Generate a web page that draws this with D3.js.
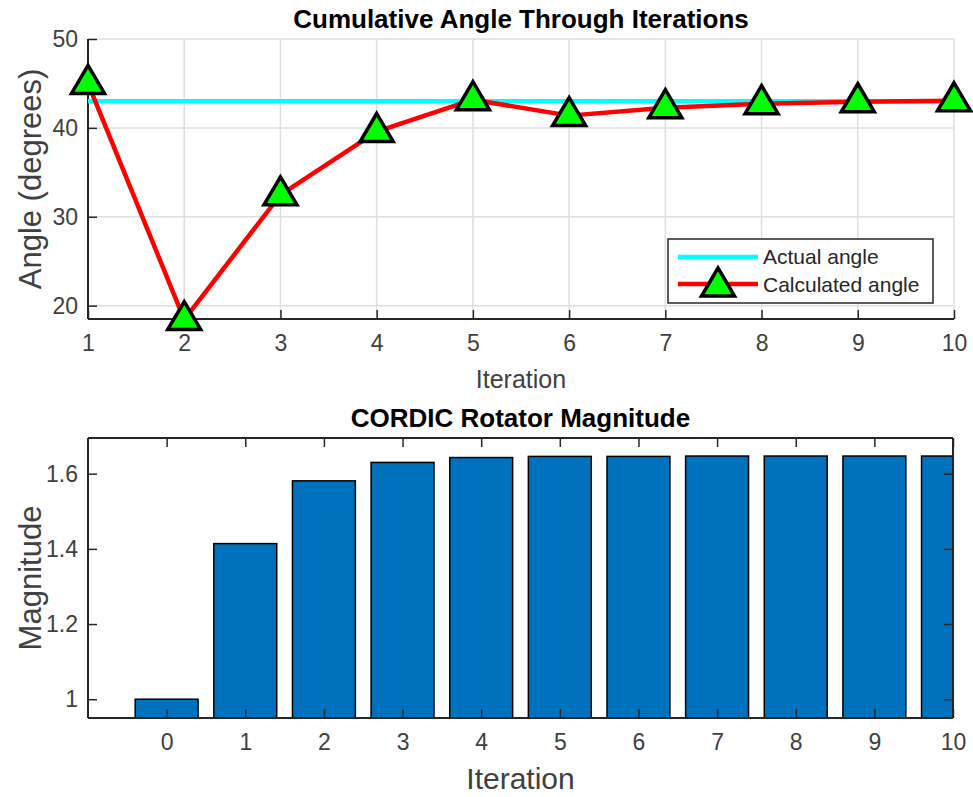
<!DOCTYPE html>
<html>
<head>
<meta charset="utf-8">
<script src="https://cdn.jsdelivr.net/npm/d3@7"></script>
<style>
  body { margin: 0; background: #fff; }
  svg { display: block; font-family: "Liberation Sans", Arial, sans-serif; }
</style>
</head>
<body>
<svg id="chart" width="973" height="797"></svg>
<script>
// data
const iterations = [1, 2, 3, 4, 5, 6, 7, 8, 9, 10];
const calculatedAngle = [45, 18.43, 32.47, 39.59, 43.17, 41.38, 42.27, 42.72, 42.94, 43.05];
const actualAngle = 43;
const magIterations = [0, 1, 2, 3, 4, 5, 6, 7, 8, 9, 10];
const magnitude = [1, 1.414, 1.581, 1.630, 1.643, 1.646, 1.646, 1.647, 1.647, 1.647, 1.647];
const angleTicks = [20, 30, 40, 50];
const magTicks = [1, 1.2, 1.4, 1.6];

const axisColor = "#262626";
const textColor = "#404040";
const gridColor = "#dedede";

const svg = d3.select("#chart");

// ---------- top panel: cumulative angle ----------
const topBox = { x0: 88, x1: 954, y0: 39, y1: 319 };

const x1 = d3.scaleLinear().domain([1, 10]).range([topBox.x0, topBox.x1]);
const y1 = d3.scaleLinear().domain([18.5, 50]).range([topBox.y1, topBox.y0]);

const g1 = svg.append("g");

// grid
g1.selectAll("line.vgrid").data(iterations).enter().append("line")
  .attr("x1", d => x1(d)).attr("x2", d => x1(d))
  .attr("y1", topBox.y0).attr("y2", topBox.y1)
  .attr("stroke", gridColor).attr("stroke-width", 1.5);
g1.selectAll("line.hgrid").data(angleTicks).enter().append("line")
  .attr("x1", topBox.x0).attr("x2", topBox.x1)
  .attr("y1", d => y1(d)).attr("y2", d => y1(d))
  .attr("stroke", gridColor).attr("stroke-width", 1.5);

// axes
const xAxis1 = d3.axisBottom(x1).tickValues(iterations).tickSize(-9).tickPadding(16).tickFormat(d => d);
const yAxis1 = d3.axisLeft(y1).tickValues(angleTicks).tickSize(-9).tickPadding(10);

const ax1 = g1.append("g").attr("transform", `translate(0,${topBox.y1})`).call(xAxis1);
const ay1 = g1.append("g").attr("transform", `translate(${topBox.x0},0)`).call(yAxis1);
[ax1, ay1].forEach(a => {
  a.select(".domain").attr("stroke", axisColor).attr("stroke-width", 2);
  a.selectAll(".tick line").attr("stroke", axisColor).attr("stroke-width", 1.5);
  a.selectAll(".tick text").attr("fill", textColor).style("font-size", "23px");
});
ax1.select(".domain").attr("d", `M${topBox.x0},0H${topBox.x1}`);
ay1.select(".domain").attr("d", `M0,${topBox.y1}V${topBox.y0}`);

// actual angle line
g1.append("line")
  .attr("x1", x1(1)).attr("x2", x1(10))
  .attr("y1", y1(actualAngle)).attr("y2", y1(actualAngle))
  .attr("stroke", "#00ffff").attr("stroke-width", 4.5);

// calculated angle line
const line1 = d3.line().x((d, i) => x1(iterations[i])).y(d => y1(d));
g1.append("path")
  .datum(calculatedAngle)
  .attr("d", line1)
  .attr("fill", "none")
  .attr("stroke", "#ff0000")
  .attr("stroke-width", 4.5)
  .attr("stroke-linejoin", "round");

const triPath = "M0,-18L16.5,10L-16.5,10Z";
g1.selectAll("path.marker").data(calculatedAngle).enter().append("path")
  .attr("class", "marker")
  .attr("d", triPath)
  .attr("transform", (d, i) => `translate(${x1(iterations[i])},${y1(d)})`)
  .attr("fill", "#00ff00")
  .attr("stroke", "#000")
  .attr("stroke-width", 3.5)
  .attr("stroke-linejoin", "miter");

// title & labels
g1.append("text")
  .attr("x", (topBox.x0 + topBox.x1) / 2).attr("y", 28)
  .attr("text-anchor", "middle")
  .style("font-size", "26px").style("font-weight", "bold")
  .attr("fill", "#000")
  .text("Cumulative Angle Through Iterations");
g1.append("text")
  .attr("x", (topBox.x0 + topBox.x1) / 2).attr("y", 388)
  .attr("text-anchor", "middle")
  .style("font-size", "25px")
  .attr("fill", textColor)
  .text("Iteration");
g1.append("text")
  .attr("transform", `translate(41,${(topBox.y0 + topBox.y1) / 2}) rotate(-90)`)
  .attr("text-anchor", "middle")
  .style("font-size", "31px")
  .attr("fill", textColor)
  .text("Angle (degrees)");

// legend
const lg = g1.append("g");
lg.append("rect")
  .attr("x", 668).attr("y", 239).attr("width", 265).attr("height", 64)
  .attr("fill", "#fff").attr("stroke", axisColor).attr("stroke-width", 1.5);
lg.append("line")
  .attr("x1", 678).attr("x2", 758).attr("y1", 257).attr("y2", 257)
  .attr("stroke", "#00ffff").attr("stroke-width", 4.5);
lg.append("line")
  .attr("x1", 678).attr("x2", 758).attr("y1", 284).attr("y2", 284)
  .attr("stroke", "#ff0000").attr("stroke-width", 4.5);
lg.append("path")
  .attr("d", triPath)
  .attr("transform", "translate(718,286)")
  .attr("fill", "#00ff00").attr("stroke", "#000").attr("stroke-width", 3.5);
lg.append("text").attr("x", 763).attr("y", 264)
  .style("font-size", "21px").attr("fill", axisColor).text("Actual angle");
lg.append("text").attr("x", 763).attr("y", 292)
  .style("font-size", "21px").attr("fill", axisColor).text("Calculated angle");

// ---------- bottom panel: magnitude ----------
const botBox = { x0: 88, x1: 953, y0: 438, y1: 718 };

const x2 = d3.scaleLinear().domain([-1, 10]).range([botBox.x0, botBox.x1]);
const y2 = d3.scaleLinear().domain([0.95, 1.695]).range([botBox.y1, botBox.y0]);

const g2 = svg.append("g");

svg.append("defs").append("clipPath").attr("id", "clipBot")
  .append("rect")
  .attr("x", botBox.x0).attr("y", botBox.y0)
  .attr("width", botBox.x1 - botBox.x0).attr("height", botBox.y1 - botBox.y0);

const barW = (x2(0.8) - x2(0));
g2.append("g").attr("clip-path", "url(#clipBot)")
  .selectAll("rect").data(magnitude).enter().append("rect")
  .attr("x", (d, i) => x2(magIterations[i]) - barW / 2)
  .attr("y", d => y2(d))
  .attr("width", barW)
  .attr("height", d => botBox.y1 - y2(d))
  .attr("fill", "#0072bd")
  .attr("stroke", "#000")
  .attr("stroke-width", 1.5);

const xAxis2 = d3.axisBottom(x2).tickValues(magIterations).tickSize(-9).tickPadding(16).tickFormat(d => d);
const yAxis2 = d3.axisLeft(y2).tickValues(magTicks).tickSize(-9).tickPadding(10).tickFormat(d => d);
const xAxis2t = d3.axisTop(x2).tickValues(magIterations).tickSize(-9).tickFormat("");
const yAxis2r = d3.axisRight(y2).tickValues(magTicks).tickSize(-9).tickFormat("");

const ax2 = g2.append("g").attr("transform", `translate(0,${botBox.y1})`).call(xAxis2);
const ay2 = g2.append("g").attr("transform", `translate(${botBox.x0},0)`).call(yAxis2);
const ax2t = g2.append("g").attr("transform", `translate(0,${botBox.y0})`).call(xAxis2t);
const ay2r = g2.append("g").attr("transform", `translate(${botBox.x1},0)`).call(yAxis2r);
[ax2, ay2, ax2t, ay2r].forEach(a => {
  a.select(".domain").attr("stroke", axisColor).attr("stroke-width", 2);
  a.selectAll(".tick line").attr("stroke", axisColor).attr("stroke-width", 1.5);
  a.selectAll(".tick text").attr("fill", textColor).style("font-size", "23px");
});
ax2.select(".domain").attr("d", `M${botBox.x0},0H${botBox.x1}`);
ax2t.select(".domain").attr("d", `M${botBox.x0},0H${botBox.x1}`);
ay2.select(".domain").attr("d", `M0,${botBox.y1}V${botBox.y0}`);
ay2r.select(".domain").attr("d", `M0,${botBox.y1}V${botBox.y0}`);

g2.append("text")
  .attr("x", (botBox.x0 + botBox.x1) / 2).attr("y", 427)
  .attr("text-anchor", "middle")
  .style("font-size", "26px").style("font-weight", "bold")
  .attr("fill", "#000")
  .text("CORDIC Rotator Magnitude");
g2.append("text")
  .attr("x", (botBox.x0 + botBox.x1) / 2).attr("y", 789)
  .attr("text-anchor", "middle")
  .style("font-size", "30px")
  .attr("fill", textColor)
  .text("Iteration");
g2.append("text")
  .attr("transform", `translate(41,${(botBox.y0 + botBox.y1) / 2}) rotate(-90)`)
  .attr("text-anchor", "middle")
  .style("font-size", "31px")
  .attr("fill", textColor)
  .text("Magnitude");
</script>
</body>
</html>
